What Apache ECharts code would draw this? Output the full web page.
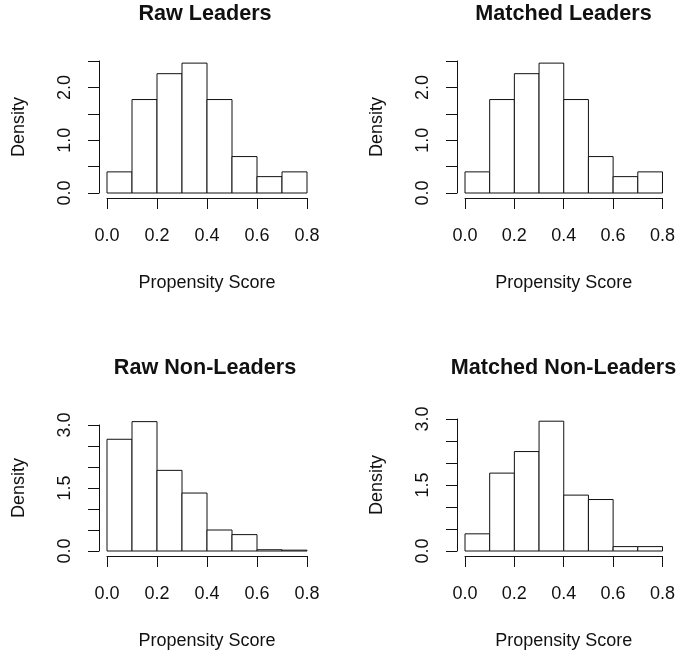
<!DOCTYPE html>
<html>
<head>
<meta charset="utf-8">
<script src="https://cdn.jsdelivr.net/npm/echarts@6/dist/echarts.min.js"></script>
<style>
  html, body { margin: 0; padding: 0; background: #fff; }
  #chart { width: 678px; height: 651px; }
</style>
</head>
<body>
<div id="chart"></div>
<script>
// histogram bins (propensity score) and densities
var binEdges = [0, 0.1, 0.2, 0.3, 0.4, 0.5, 0.6, 0.7, 0.8];
var rawLeaders = [0.40, 1.77, 2.26, 2.46, 1.77, 0.69, 0.31, 0.40];
var matchedLeaders = [0.40, 1.77, 2.26, 2.46, 1.77, 0.69, 0.31, 0.40];
var rawNonLeaders = [2.66, 3.08, 1.92, 1.38, 0.50, 0.39, 0.03, 0.02];
var matchedNonLeaders = [0.39, 1.77, 2.26, 2.95, 1.27, 1.17, 0.10, 0.10];

var titles = ['Raw Leaders', 'Matched Leaders', 'Raw Non-Leaders', 'Matched Non-Leaders'];
var xTickLabels = ['0.0', '0.2', '0.4', '0.6', '0.8'];
var yLabelsLeaders = ['0.0', '1.0', '2.0'];
var yLabelsNonLeaders = ['0.0', '1.5', '3.0'];

var ink = '#111';
var font = 'Liberation Sans, Arial, sans-serif';

var panels = [
    { data: rawLeaders,        grid: { left: 107, top: 61,  width: 200, height: 132 }, yMax: 2.5, yLabels: yLabelsLeaders },
    { data: matchedLeaders,    grid: { left: 465, top: 61,  width: 201, height: 132 }, yMax: 2.5, yLabels: yLabelsLeaders },
    { data: rawNonLeaders,     grid: { left: 107, top: 425, width: 200, height: 126 }, yMax: 3.0, yLabels: yLabelsNonLeaders },
    { data: matchedNonLeaders, grid: { left: 465, top: 419, width: 201, height: 132 }, yMax: 3.0, yLabels: yLabelsNonLeaders }
];

function binRows(values) {
    var rows = [];
    for (var i = 0; i < values.length; i++) {
        rows.push([binEdges[i], binEdges[i + 1], values[i]]);
    }
    return rows;
}

function renderBar(params, api) {
    var p0 = api.coord([api.value(0), 0]);
    var p1 = api.coord([api.value(1), api.value(2)]);
    return {
        type: 'rect',
        shape: { x: p0[0], y: p1[1], width: p1[0] - p0[0], height: p0[1] - p1[1] },
        style: { fill: '#fff', stroke: ink, lineWidth: 1 }
    };
}

var grids = [], xAxes = [], yAxes = [], series = [], titleList = [];
panels.forEach(function (p, i) {
    grids.push(p.grid);
    titleList.push({
        text: titles[i],
        left: p.grid.left + p.grid.width / 2 - 2,
        top: i < 2 ? 3 : 357,
        padding: 0,
        textAlign: 'center',
        textStyle: { fontFamily: font, fontSize: 21.6, fontWeight: 'bold', color: ink }
    });
    xAxes.push({
        type: 'value', gridIndex: i, min: 0, max: 0.8, interval: 0.2,
        offset: 5,
        name: 'Propensity Score', nameLocation: 'middle', nameGap: 76,
        nameTextStyle: { fontFamily: font, fontSize: 18, color: ink },
        splitLine: { show: false },
        axisLine: { show: true, onZero: false, lineStyle: { color: ink, width: 1 } },
        axisTick: { show: true, length: 11, lineStyle: { color: ink, width: 1 } },
        axisLabel: {
            margin: 29, fontFamily: font, fontSize: 18, color: ink,
            formatter: function (v) {
                var s = v.toFixed(1);
                return xTickLabels.indexOf(s) >= 0 ? s : '';
            }
        }
    });
    yAxes.push({
        type: 'value', gridIndex: i, min: 0, max: p.yMax, interval: 0.5,
        offset: 8,
        name: 'Density', nameLocation: 'middle', nameGap: 71,
        nameTextStyle: { fontFamily: font, fontSize: 18, color: ink },
        splitLine: { show: false },
        axisLine: { show: true, onZero: false, lineStyle: { color: ink, width: 1 } },
        axisTick: { show: true, length: 11, lineStyle: { color: ink, width: 1 } },
        axisLabel: {
            rotate: 90, margin: 25, fontFamily: font, fontSize: 18, color: ink,
            formatter: function (v) {
                var s = v.toFixed(1);
                return p.yLabels.indexOf(s) >= 0 ? s : '';
            }
        }
    });
    series.push({
        type: 'custom', xAxisIndex: i, yAxisIndex: i,
        renderItem: renderBar,
        encode: { x: [0, 1], y: 2 },
        clip: false,
        silent: true,
        data: binRows(p.data)
    });
});

var chart = echarts.init(document.getElementById('chart'));
chart.setOption({
    backgroundColor: '#fff',
    animation: false,
    title: titleList,
    grid: grids,
    xAxis: xAxes,
    yAxis: yAxes,
    series: series
});
</script>
</body>
</html>
